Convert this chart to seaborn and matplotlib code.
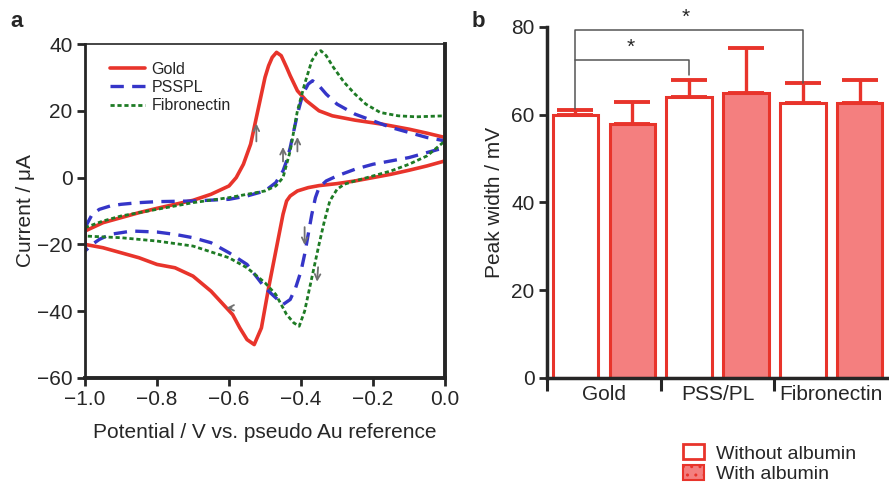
import numpy as np
import pandas as pd
import seaborn as sns
import matplotlib
matplotlib.use("Agg")
import matplotlib.pyplot as plt
from matplotlib.patches import Patch

# ---- panel a: cyclic voltammograms ----
gold_fwd_v = [-1.0, -0.95, -0.9, -0.85, -0.8, -0.75, -0.7, -0.65, -0.62, -0.6, -0.58, -0.56, -0.54, -0.52,
              -0.5, -0.49, -0.48, -0.468, -0.455, -0.44, -0.43, -0.41, -0.385, -0.35, -0.313, -0.25, -0.175,
              -0.1, -0.05, 0.0]
gold_fwd_i = [-16, -13.5, -12, -10.5, -9.2, -8, -6.8, -5, -3.5, -2.5, 0, 4, 10, 20,
              30, 33.5, 36, 37.5, 36.5, 33, 30.5, 26, 23, 20, 18.5, 17.2, 16,
              14.5, 13.3, 12]
gold_rev_v = [0.0, -0.05, -0.1, -0.15, -0.2, -0.25, -0.3, -0.35, -0.38, -0.41, -0.43, -0.44, -0.45, -0.47,
              -0.49, -0.51, -0.53, -0.55, -0.57, -0.59, -0.62, -0.65, -0.7, -0.75, -0.8, -0.85, -0.9, -0.95, -1.0]
gold_rev_i = [5, 3.5, 2.2, 1, 0, -1, -1.8, -2.4, -3, -4, -5.5, -7, -11, -22,
              -33, -45, -50, -48.5, -45, -41, -37.5, -34, -29.5, -27, -26, -24, -22.5, -21, -20]

pss_fwd_v = [-1.0, -0.98, -0.96, -0.93, -0.9, -0.85, -0.8, -0.7, -0.6, -0.55, -0.5, -0.47, -0.45, -0.44,
             -0.43, -0.42, -0.41, -0.395, -0.38, -0.368, -0.35, -0.33, -0.3, -0.25, -0.2, -0.15, -0.1, -0.05, 0.0]
pss_fwd_i = [-15, -11, -9.5, -8.5, -8, -7.5, -7.2, -7, -6.5, -5.5, -4, -1.5, 2, 5,
             9, 14, 19, 25, 28, 29, 27.5, 25, 22, 19, 17, 15, 13.5, 12, 11]
pss_rev_v = [0.0, -0.05, -0.1, -0.15, -0.2, -0.25, -0.3, -0.33, -0.35, -0.36, -0.37, -0.38, -0.39, -0.40,
             -0.415, -0.43, -0.45, -0.47, -0.5, -0.55, -0.6, -0.65, -0.7, -0.75, -0.8, -0.87, -0.93, -0.96, -0.98, -1.0]
pss_rev_i = [9, 7.5, 6, 5, 4, 2.5, 0.5, -1, -3, -6, -11, -17, -23, -28,
             -33, -36.5, -38, -36, -33, -26, -22.5, -19.5, -18, -17, -16.3, -16, -17, -18.5, -20, -22]

fib_fwd_v = [-1.0, -0.95, -0.9, -0.85, -0.8, -0.7, -0.6, -0.55, -0.5, -0.47, -0.45, -0.43, -0.41, -0.39,
             -0.37, -0.355, -0.345, -0.33, -0.31, -0.28, -0.25, -0.22, -0.18, -0.13, -0.08, 0.0]
fib_fwd_i = [-15, -13, -11.5, -10.5, -9.5, -7.5, -6, -5, -4, -2.5, 0, 8, 20, 28,
             35, 37.5, 38, 36.5, 33, 28.5, 25, 22, 19.5, 18.5, 18.2, 18.5]
fib_rev_v = [0.0, -0.05, -0.1, -0.15, -0.2, -0.25, -0.28, -0.3, -0.32, -0.335, -0.35, -0.37, -0.39, -0.405,
             -0.42, -0.44, -0.47, -0.5, -0.55, -0.6, -0.7, -0.8, -0.9, -1.0]
fib_rev_i = [11, 6.5, 4, 2, 0.5, -1, -2, -3.5, -7, -13, -20, -30, -40, -44.5,
             -43.5, -41, -35, -31.5, -27, -24, -20.5, -19, -18, -17.5]

# ---- panel b: peak widths ----
surfaces = ["Gold", "PSS/PL", "Fibronectin"]
conditions = ["Without albumin", "With albumin"]
width_without = [60.0, 64.0, 62.7]
width_with = [58.0, 65.0, 62.7]
err_without = [1.0, 4.0, 4.6]
err_with = [4.8, 10.2, 5.3]

RED = "#e8342b"
PINK = "#f47f7f"
BLUE = "#3535c8"
GREEN = "#1e7b25"
FS = 15

sns.set_style("ticks")
plt.rcParams["font.family"] = ["Liberation Sans", "DejaVu Sans"]
plt.rcParams["axes.unicode_minus"] = True

fig = plt.figure(figsize=(8.89, 4.82), dpi=100)
axa = fig.add_axes([0.0956, 0.2158, 0.405, 0.6929])
axb = fig.add_axes([0.6153, 0.2158, 0.3837, 0.7282])


def loop(fv, fi, rv, ri):
    v = list(fv) + list(rv) + [fv[0]]
    i = list(fi) + list(ri) + [fi[0]]
    return pd.DataFrame({"v": v, "i": i})


gold = loop(gold_fwd_v, gold_fwd_i, gold_rev_v, gold_rev_i)
pss = loop(pss_fwd_v, pss_fwd_i, pss_rev_v, pss_rev_i)
fib = loop(fib_fwd_v, fib_fwd_i, fib_rev_v, fib_rev_i)

sns.lineplot(data=gold, x="v", y="i", sort=False, estimator=None, ax=axa,
             color=RED, lw=2.6, label="Gold")
sns.lineplot(data=pss, x="v", y="i", sort=False, estimator=None, ax=axa,
             color=BLUE, lw=2.4, linestyle=(0, (4, 2.5)), label="PSSPL")
sns.lineplot(data=fib, x="v", y="i", sort=False, estimator=None, ax=axa,
             color=GREEN, lw=2.0, linestyle=(0, (1.5, 1)), label="Fibronectin")

# scan direction arrows
arrows = [((-0.524, 10), (-0.524, 17)), ((-0.45, 4), (-0.45, 10)), ((-0.41, 7), (-0.41, 13)),
          ((-0.39, -14), (-0.39, -21)), ((-0.352, -26), (-0.356, -32)), ((-0.585, -39), (-0.615, -39))]
for start, end in arrows:
    axa.annotate("", xy=end, xytext=start,
                 arrowprops=dict(arrowstyle="->", color="#707070", lw=1.3, mutation_scale=10))

axa.set_xlim(-1.0, 0.0)
axa.set_ylim(-60, 40)
axa.set_xticks(np.arange(-1.0, 0.01, 0.2))
axa.set_yticks(np.arange(-60, 41, 20))
axa.set_xlabel("Potential / V vs. pseudo Au reference", fontsize=FS, labelpad=10)
axa.set_ylabel("Current / μA", fontsize=FS, labelpad=1)
axa.tick_params(labelsize=FS, width=2, length=6, direction="out", pad=3)
for side, w in [("left", 2), ("bottom", 2.8), ("right", 2.8), ("top", 1.2)]:
    axa.spines[side].set_visible(True)
    axa.spines[side].set_linewidth(w)
axa.legend(loc="upper left", bbox_to_anchor=(0.03, 0.99), frameon=False, fontsize=11.5,
           handlelength=2.2, labelspacing=0.2, handletextpad=0.4)

# ---- panel b ----
df = pd.DataFrame({
    "surface": surfaces * 2,
    "condition": [conditions[0]] * 3 + [conditions[1]] * 3,
    "width": width_without + width_with,
})
sns.barplot(data=df, x="surface", y="width", hue="condition", order=surfaces,
            hue_order=conditions, palette=["white", PINK], saturation=1, width=1.0, gap=0.2,
            edgecolor=RED, linewidth=2.2, errorbar=None, legend=False, ax=axb)

errs = [err_without, err_with]
for cont, err in zip(axb.containers, errs):
    for bar, e in zip(cont, err):
        xc = bar.get_x() + bar.get_width() / 2
        axb.errorbar(xc, bar.get_height(), yerr=[[0], [e]], color=RED, lw=2.4,
                     capsize=13, capthick=2.8, fmt="none", zorder=1)

# significance brackets
top0 = width_without[0] + err_without[0] + 0.3
axb.plot([-0.25, -0.25, 1.75, 1.75], [top0, 79.4, 79.4, width_without[2] + err_without[2]],
         color="#555555", lw=1.1, clip_on=False)
axb.plot([-0.25, 0.75, 0.75], [72.5, 72.5, 69.0], color="#555555", lw=1.1)
axb.text(0.24, 73.2, "*", ha="center", va="bottom", fontsize=15)
axb.text(0.72, 80.1, "*", ha="center", va="bottom", fontsize=15, clip_on=False)

axb.set_xlim(-0.5, 2.5)
axb.set_ylim(0, 80)
axb.set_yticks(np.arange(0, 81, 20))
axb.set_xlabel("")
axb.set_ylabel("Peak width / mV", fontsize=FS, labelpad=5)
axb.tick_params(axis="y", labelsize=FS, width=2, length=6, pad=3)
axb.tick_params(axis="x", which="major", labelsize=FS, length=0, pad=5)
axb.set_xticks([-0.5, 0.5, 1.5], minor=True)
axb.tick_params(axis="x", which="minor", length=9, width=2.2)
sns.despine(ax=axb)
axb.spines["left"].set_linewidth(2.5)
axb.spines["bottom"].set_linewidth(2.5)

handles = [Patch(facecolor="white", edgecolor=RED, lw=2),
           Patch(facecolor=PINK, edgecolor=RED, lw=1.5, hatch="..")]
fig.legend(handles, conditions, loc="upper left", bbox_to_anchor=(0.757, 0.098), frameon=False,
           borderpad=0, fontsize=14, handlelength=1.1, handleheight=0.8, handletextpad=0.6,
           labelspacing=0.12)

fig.text(0.012, 0.955, "a", fontsize=16, fontweight="bold", va="center")
fig.text(0.531, 0.955, "b", fontsize=16, fontweight="bold", va="center")

fig.savefig("out.png", dpi=100)
